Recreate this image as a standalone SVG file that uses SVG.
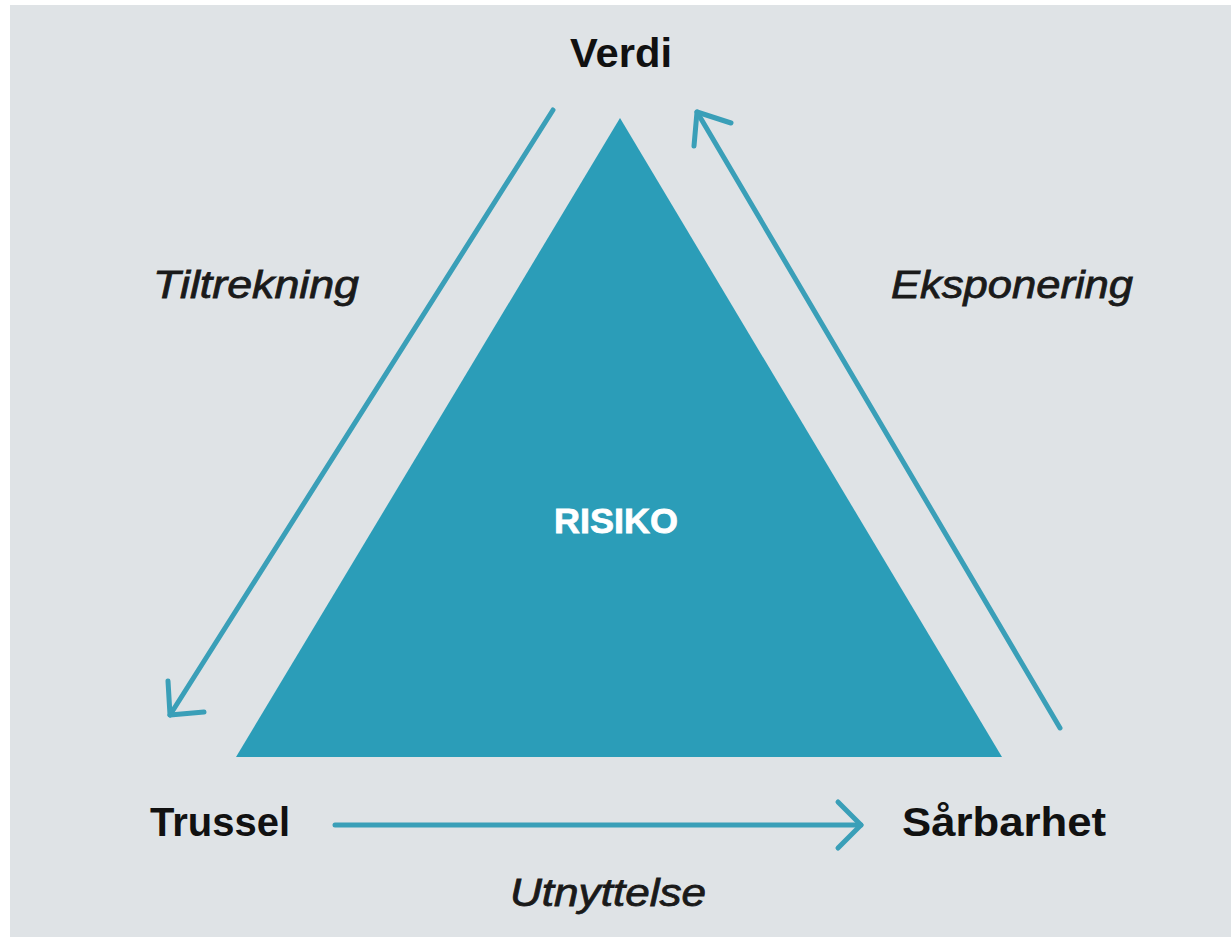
<svg xmlns="http://www.w3.org/2000/svg" width="1231" height="937" viewBox="0 0 1231 937">
<style>
.lbl{font-family:"Liberation Sans",Arial,sans-serif;font-weight:bold;font-size:40px;fill:#111}
.it{font-family:"Liberation Sans",Arial,sans-serif;font-style:italic;font-size:38px;fill:#1a1a1a;stroke:#1a1a1a;stroke-width:0.8}
.con{stroke:#3a9fb8;stroke-width:5;fill:none;stroke-linecap:round;stroke-linejoin:round}
</style>
<rect x="0" y="0" width="1231" height="937" fill="#ffffff"/>
<rect x="10" y="5" width="1221" height="932" fill="#dfe3e6"/>
<g id="risiko">
<polygon points="620,118 236,757 1002,757" fill="#2b9db8"/>
<text x="616" y="533" text-anchor="middle" font-family="Liberation Sans,Arial,sans-serif" font-weight="bold" font-size="35" fill="#ffffff" stroke="#ffffff" stroke-width="0.8" textLength="124" lengthAdjust="spacingAndGlyphs">RISIKO</text>
</g>
<g id="verdi"><text class="lbl" x="621" y="67" text-anchor="middle" textLength="102" lengthAdjust="spacingAndGlyphs">Verdi</text></g>
<g id="trussel"><text class="lbl" x="150" y="836" textLength="140" lengthAdjust="spacingAndGlyphs">Trussel</text></g>
<g id="sarbarhet"><text class="lbl" x="902" y="836" textLength="204" lengthAdjust="spacingAndGlyphs">Sårbarhet</text></g>
<g id="connectors">
<path class="con" d="M553,110 L170,715"/>
<path class="con" d="M168,681 L170,715 L204,712"/>
<path class="con" d="M1060,728 L697,112"/>
<path class="con" d="M731,123 L697,112 L694,146"/>
<path class="con" d="M335,825 L861,825"/>
<path class="con" d="M838,802 L861,825 L838,848"/>
<text class="it" x="153" y="298" textLength="206" lengthAdjust="spacingAndGlyphs">Tiltrekning</text>
<text class="it" x="891" y="298" textLength="242" lengthAdjust="spacingAndGlyphs">Eksponering</text>
<text class="it" x="510" y="906" textLength="196" lengthAdjust="spacingAndGlyphs">Utnyttelse</text>
</g>
</svg>
